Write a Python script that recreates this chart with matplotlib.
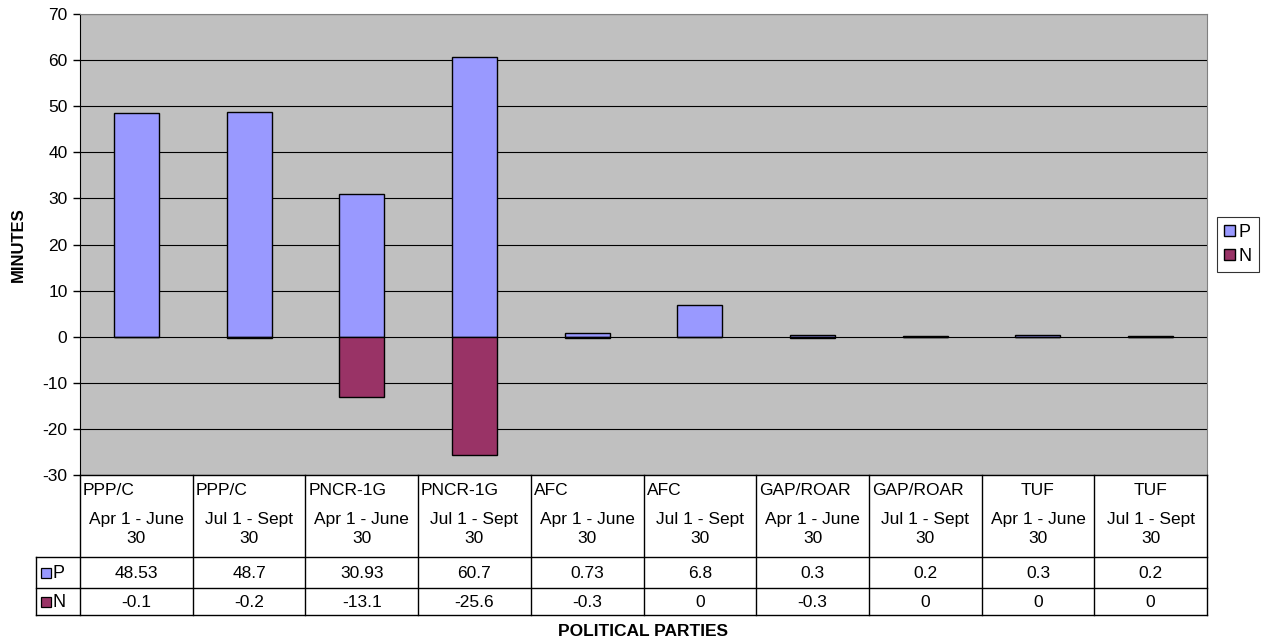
import numpy as np
import matplotlib.pyplot as plt
from matplotlib.patches import Rectangle

plt.rcParams['font.family'] = ['Liberation Sans', 'DejaVu Sans']
plt.rcParams['axes.unicode_minus'] = False

parties = ['PPP/C', 'PPP/C', 'PNCR-1G', 'PNCR-1G', 'AFC', 'AFC',
           'GAP/ROAR', 'GAP/ROAR', 'TUF', 'TUF']
periods = ['Apr 1 - June\n30', 'Jul 1 - Sept\n30'] * 5
p_vals = [48.53, 48.7, 30.93, 60.7, 0.73, 6.8, 0.3, 0.2, 0.3, 0.2]
n_vals = [-0.1, -0.2, -13.1, -25.6, -0.3, 0, -0.3, 0, 0, 0]
p_text = ['48.53', '48.7', '30.93', '60.7', '0.73', '6.8', '0.3', '0.2', '0.3', '0.2']
n_text = ['-0.1', '-0.2', '-13.1', '-25.6', '-0.3', '0', '-0.3', '0', '0', '0']

P_COL = '#9999FF'
N_COL = '#993366'
FS = 12.5

W, H = 1265, 640
fig = plt.figure(figsize=(W / 100, H / 100), dpi=100)

x0, x1 = 80, 1207
ytop, ybot = 14, 475
ax = fig.add_axes([x0 / W, 1 - ybot / H, (x1 - x0) / W, (ybot - ytop) / H])
ax.set_facecolor('#C0C0C0')
x = np.arange(len(parties))
ax.bar(x, p_vals, width=0.4, color=P_COL, edgecolor='black', linewidth=1, zorder=3)
ax.bar(x, n_vals, width=0.4, color=N_COL, edgecolor='black', linewidth=1, zorder=3)
ax.set_xlim(-0.5, len(parties) - 0.5)
ax.set_ylim(-30, 70)
ax.set_yticks(np.arange(-30, 71, 10))
ax.yaxis.grid(True, color='black', linewidth=0.8, zorder=1)
ax.set_axisbelow(True)
ax.set_xticks([])
ax.tick_params(axis='y', labelsize=FS, length=5, width=1, color='black', pad=4)
for s in ['top', 'right']:
    ax.spines[s].set_color('#808080')
ax.spines['left'].set_color('black')
ax.spines['bottom'].set_visible(False)
ax.set_ylabel('MINUTES', fontsize=12, fontweight='bold', labelpad=12)

# legend
leg = ax.legend(handles=[Rectangle((0, 0), 1, 1, fc=P_COL, ec='black'),
                         Rectangle((0, 0), 1, 1, fc=N_COL, ec='black')],
                labels=['P', 'N'], loc='center left', bbox_to_anchor=(1.009, 0.5),
                fontsize=13, frameon=True, fancybox=False, edgecolor='black',
                handlelength=0.6, handleheight=0.6, handletextpad=0.2,
                borderpad=0.4, labelspacing=0.4, borderaxespad=0)
leg.get_frame().set_linewidth(0.8)

# data table
tb_top, tb_bot = 475, 615
tax = fig.add_axes([x0 / W, 1 - tb_bot / H, (x1 - x0) / W, (tb_bot - tb_top) / H])
tax.set_xlim(-0.5, len(parties) - 0.5)
tax.set_ylim(tb_bot, tb_top)
tax.axis('off')
lw = 1
y_hdr, y_p, y_n = 557, 588, 615
colw_px = (x1 - x0) / len(parties)
lab_left = -0.5 - 44 / colw_px
tax.plot([-0.5, 9.5], [tb_top, tb_top], color='black', lw=lw, clip_on=False)
for yy in (y_hdr, y_p, y_n):
    tax.plot([lab_left, 9.5], [yy, yy], color='black', lw=lw, clip_on=False)
for i in range(len(parties) + 1):
    tax.plot([i - 0.5, i - 0.5], [tb_top, y_n], color='black', lw=lw, clip_on=False)
tax.plot([lab_left, lab_left], [y_hdr, y_n], color='black', lw=lw, clip_on=False)

for i in range(len(parties)):
    if parties[i] == 'TUF':
        tax.text(i, 490, parties[i], ha='center', va='center', fontsize=FS)
    else:
        tax.text(i - 0.5 + 3 / colw_px, 490, parties[i], ha='left', va='center', fontsize=FS)
    tax.text(i, 529, periods[i], ha='center', va='center', fontsize=FS, linespacing=1.3)
    tax.text(i, 573, p_text[i], ha='center', va='center', fontsize=FS)
    tax.text(i, 602, n_text[i], ha='center', va='center', fontsize=FS)

sq = 10 / colw_px
for yy, col, lab in ((573, P_COL, 'P'), (602, N_COL, 'N')):
    tax.add_patch(Rectangle((lab_left + 5 / colw_px, yy - 5), sq, 10, fc=col, ec='black',
                            lw=0.9, clip_on=False))
    tax.text(lab_left + 17 / colw_px, yy + 0.5, lab, ha='left', va='center', fontsize=13)

fig.text((x0 + x1) / 2 / W, 1 - 631 / H, 'POLITICAL PARTIES', ha='center', va='center',
         fontsize=12.5, fontweight='bold')

fig.savefig('out.png', dpi=100)
